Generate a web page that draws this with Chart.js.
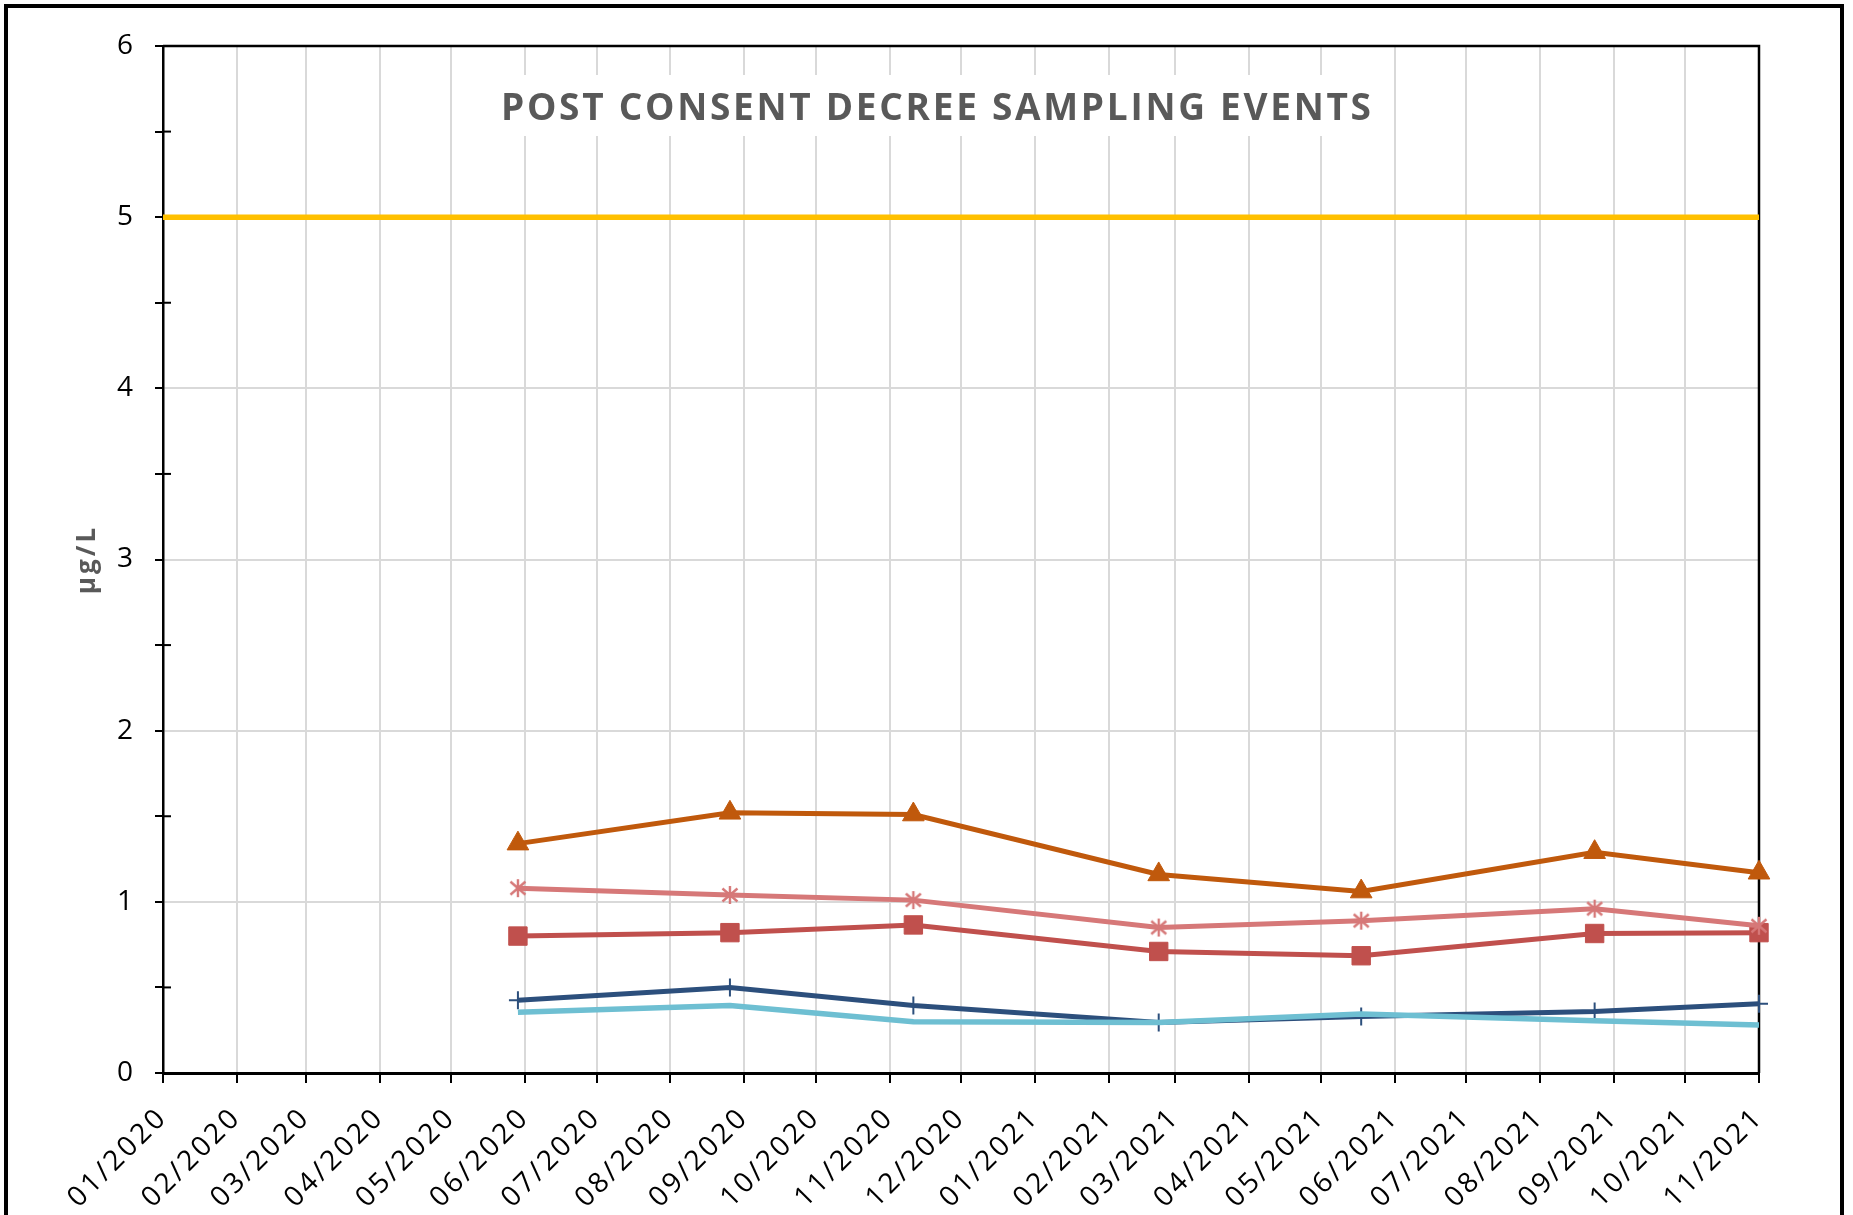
<!DOCTYPE html>
<html>
<head>
<meta charset="utf-8">
<script src="https://cdn.jsdelivr.net/npm/chart.js@4.4.1/dist/chart.umd.min.js"></script>
<style>
  html, body { margin: 0; padding: 0; background: #ffffff; }
  #wrap { width: 1853px; height: 1215px; position: relative; overflow: hidden; }
  canvas { display: block; }
</style>
</head>
<body>
<div id="wrap"><canvas id="c" width="1853" height="1215"></canvas></div>
<script>
// ---------------- DATA ----------------
const chartTitle = 'POST CONSENT DECREE SAMPLING EVENTS';
const yAxisTitle = 'µg/L';
const tickLabels = ['01/2020','02/2020','03/2020','04/2020','05/2020','06/2020','07/2020','08/2020',
  '09/2020','10/2020','11/2020','12/2020','01/2021','02/2021','03/2021','04/2021','05/2021','06/2021',
  '07/2021','08/2021','09/2021','10/2021','11/2021'];
const sampleDates = ['2020-05-29','2020-08-26','2020-11-11','2021-02-22','2021-05-18','2021-08-24','2021-11-01'];
const seriesTriangle = [1.34, 1.52, 1.51, 1.16, 1.06, 1.29, 1.17];
const seriesStar     = [1.08, 1.04, 1.01, 0.85, 0.89, 0.96, 0.86];
const seriesSquare   = [0.80, 0.82, 0.865, 0.71, 0.685, 0.815, 0.82];
const seriesPlus     = [0.425, 0.50, 0.395, 0.295, 0.33, 0.36, 0.405];
const seriesPlain    = [0.355, 0.395, 0.30, 0.295, 0.345, 0.305, 0.28];
const limitValue = 5;
const yMin = 0, yMax = 6, yStep = 0.5;

// ---------------- helpers ----------------
const DAY = 86400000;
const EPOCH = Date.UTC(2020, 0, 1);
function dayFromISO(s) { const [y, m, d] = s.split('-').map(Number); return Math.round((Date.UTC(y, m - 1, d) - EPOCH) / DAY); }
function dayFromLabel(s) { const [m, y] = s.split('/').map(Number); return Math.round((Date.UTC(y, m - 1, 1) - EPOCH) / DAY); }
const tickValues = tickLabels.map(dayFromLabel);
const labelByValue = {}; tickValues.forEach((v, i) => labelByValue[v] = tickLabels[i]);
const xVals = sampleDates.map(dayFromISO);
const xMin = tickValues[0], xMax = tickValues[tickValues.length - 1];
const pts = arr => xVals.map((x, i) => ({ x, y: arr[i] }));

// custom marker image (Excel-style asterisk)
function starMarker(color) {
  const c = document.createElement('canvas'); c.width = 20; c.height = 20;
  const g = c.getContext('2d'); g.strokeStyle = color; g.lineWidth = 2.4;
  g.beginPath(); g.moveTo(10, 1); g.lineTo(10, 19);
  g.moveTo(2.5, 3.5); g.lineTo(17.5, 16.5); g.moveTo(17.5, 3.5); g.lineTo(2.5, 16.5); g.stroke();
  return c;
}

const C_ORANGE = '#C0590C', C_PINK = '#D67878', C_RED = '#C0504D', C_NAVY = '#2C4F7C', C_LIGHT = '#6EBFD2', C_LIMIT = '#FFC000';

const datasets = [
  { label: 'Triangle series', data: pts(seriesTriangle), borderColor: C_ORANGE, backgroundColor: C_ORANGE, borderWidth: 5,
    pointStyle: 'triangle', pointRadius: 12.5, pointBorderWidth: 1, pointBackgroundColor: C_ORANGE, pointBorderColor: C_ORANGE },
  { label: 'Star series', data: pts(seriesStar), borderColor: C_PINK, backgroundColor: C_PINK, borderWidth: 5,
    pointStyle: starMarker(C_PINK), pointRadius: 10 },
  { label: 'Square series', data: pts(seriesSquare), borderColor: C_RED, backgroundColor: C_RED, borderWidth: 5,
    pointStyle: 'rect', pointRadius: 13, pointBorderWidth: 1, pointBackgroundColor: C_RED, pointBorderColor: C_RED },
  { label: 'Plain series', data: pts(seriesPlain), borderColor: C_LIGHT, backgroundColor: C_LIGHT, borderWidth: 5.5,
    pointRadius: 0 },
  { label: 'Plus series', data: pts(seriesPlus), borderColor: C_NAVY, backgroundColor: C_NAVY, borderWidth: 5,
    pointStyle: 'cross', pointRadius: 9, pointBorderWidth: 2, pointBorderColor: C_NAVY },
  { label: 'Limit', data: [{ x: xMin, y: limitValue }, { x: xMax, y: limitValue }], borderColor: C_LIMIT, borderWidth: 5.5,
    pointRadius: 0 }
];
datasets.forEach(d => { d.tension = 0; d.clip = false; d.fill = false; });

const AREA = { left: 163, top: 46, right: 1759, bottom: 1073 };

const decor = {
  id: 'decor',
  beforeDraw(chart) {
    chart.ctx.letterSpacing = '3px';
  },
  beforeDatasetsDraw(chart) {
    const ctx = chart.ctx, a = chart.chartArea, ys = chart.scales.y;
    ctx.save();
    ctx.letterSpacing = '0px';
    // plot border top/right
    ctx.strokeStyle = '#000'; ctx.lineWidth = 2.5;
    ctx.beginPath(); ctx.moveTo(a.left, a.top); ctx.lineTo(a.right, a.top); ctx.lineTo(a.right, a.bottom); ctx.stroke();
    // minor tick inner halves
    ctx.lineWidth = 2;
    ys.ticks.forEach(t => {
      if (t.value % 1 !== 0) {
        const y = ys.getPixelForValue(t.value);
        ctx.beginPath(); ctx.moveTo(a.left, y); ctx.lineTo(a.left + 8, y); ctx.stroke();
      }
    });
    // title box inside plot
    ctx.fillStyle = '#fff';
    ctx.fillRect(490, 75, 895, 61);
    ctx.font = 'bold 37px "Open Sans"';
    const base = ctx.measureText(chartTitle).width;
    const sp = (870 - base) / (chartTitle.length - 1);
    ctx.letterSpacing = sp + 'px';
    ctx.fillStyle = '#595959'; ctx.textAlign = 'left'; ctx.textBaseline = 'alphabetic';
    ctx.fillText(chartTitle, 936 - 435, 120);
    ctx.restore();
    ctx.letterSpacing = '0px';
  },
  afterDraw(chart) {
    const ctx = chart.ctx;
    ctx.save();
    ctx.strokeStyle = '#000'; ctx.lineWidth = 4;
    ctx.strokeRect(6, 6, 1836, 1240);
    ctx.restore();
  }
};

new Chart(document.getElementById('c'), {
  type: 'line',
  data: { datasets },
  options: {
    responsive: false, animation: false, devicePixelRatio: 1,
    layout: { padding: { left: 0, top: AREA.top, right: 1853 - AREA.right, bottom: 0 } },
    plugins: { legend: { display: false }, tooltip: { enabled: false }, title: { display: false } },
    scales: {
      x: {
        type: 'linear', min: xMin, max: xMax,
        afterBuildTicks: s => { s.ticks = tickValues.map(v => ({ value: v })); },
        afterFit: s => { s.height = 1215 - AREA.bottom; },
        ticks: { autoSkip: false, minRotation: 45, maxRotation: 45, padding: 18, color: '#000',
          font: { family: 'Open Sans', size: 28 }, callback: v => labelByValue[v] },
        grid: { color: '#D9D9D9', lineWidth: 2, tickLength: 10, tickColor: '#000', tickWidth: 2 },
        border: { display: true, color: '#000', width: 3 }
      },
      y: {
        min: yMin, max: yMax,
        afterFit: s => { s.width = AREA.left; },
        ticks: { stepSize: yStep, padding: 19, color: '#000', font: { family: 'Open Sans', size: 28 },
          callback: v => (v % 1 === 0 ? String(v) : '') },
        grid: { color: c => (c.tick && c.tick.value % 1 === 0 ? '#D9D9D9' : 'rgba(0,0,0,0)'),
          lineWidth: 2, tickLength: 8, tickColor: '#000', tickWidth: 2 },
        border: { display: true, color: '#000', width: 2.5 },
        title: { display: true, text: yAxisTitle, color: '#595959',
          font: { family: 'Open Sans', size: 26, weight: 'bold' }, padding: { top: 72, bottom: 0 } }
      }
    }
  },
  plugins: [decor]
});
</script>
</body>
</html>
